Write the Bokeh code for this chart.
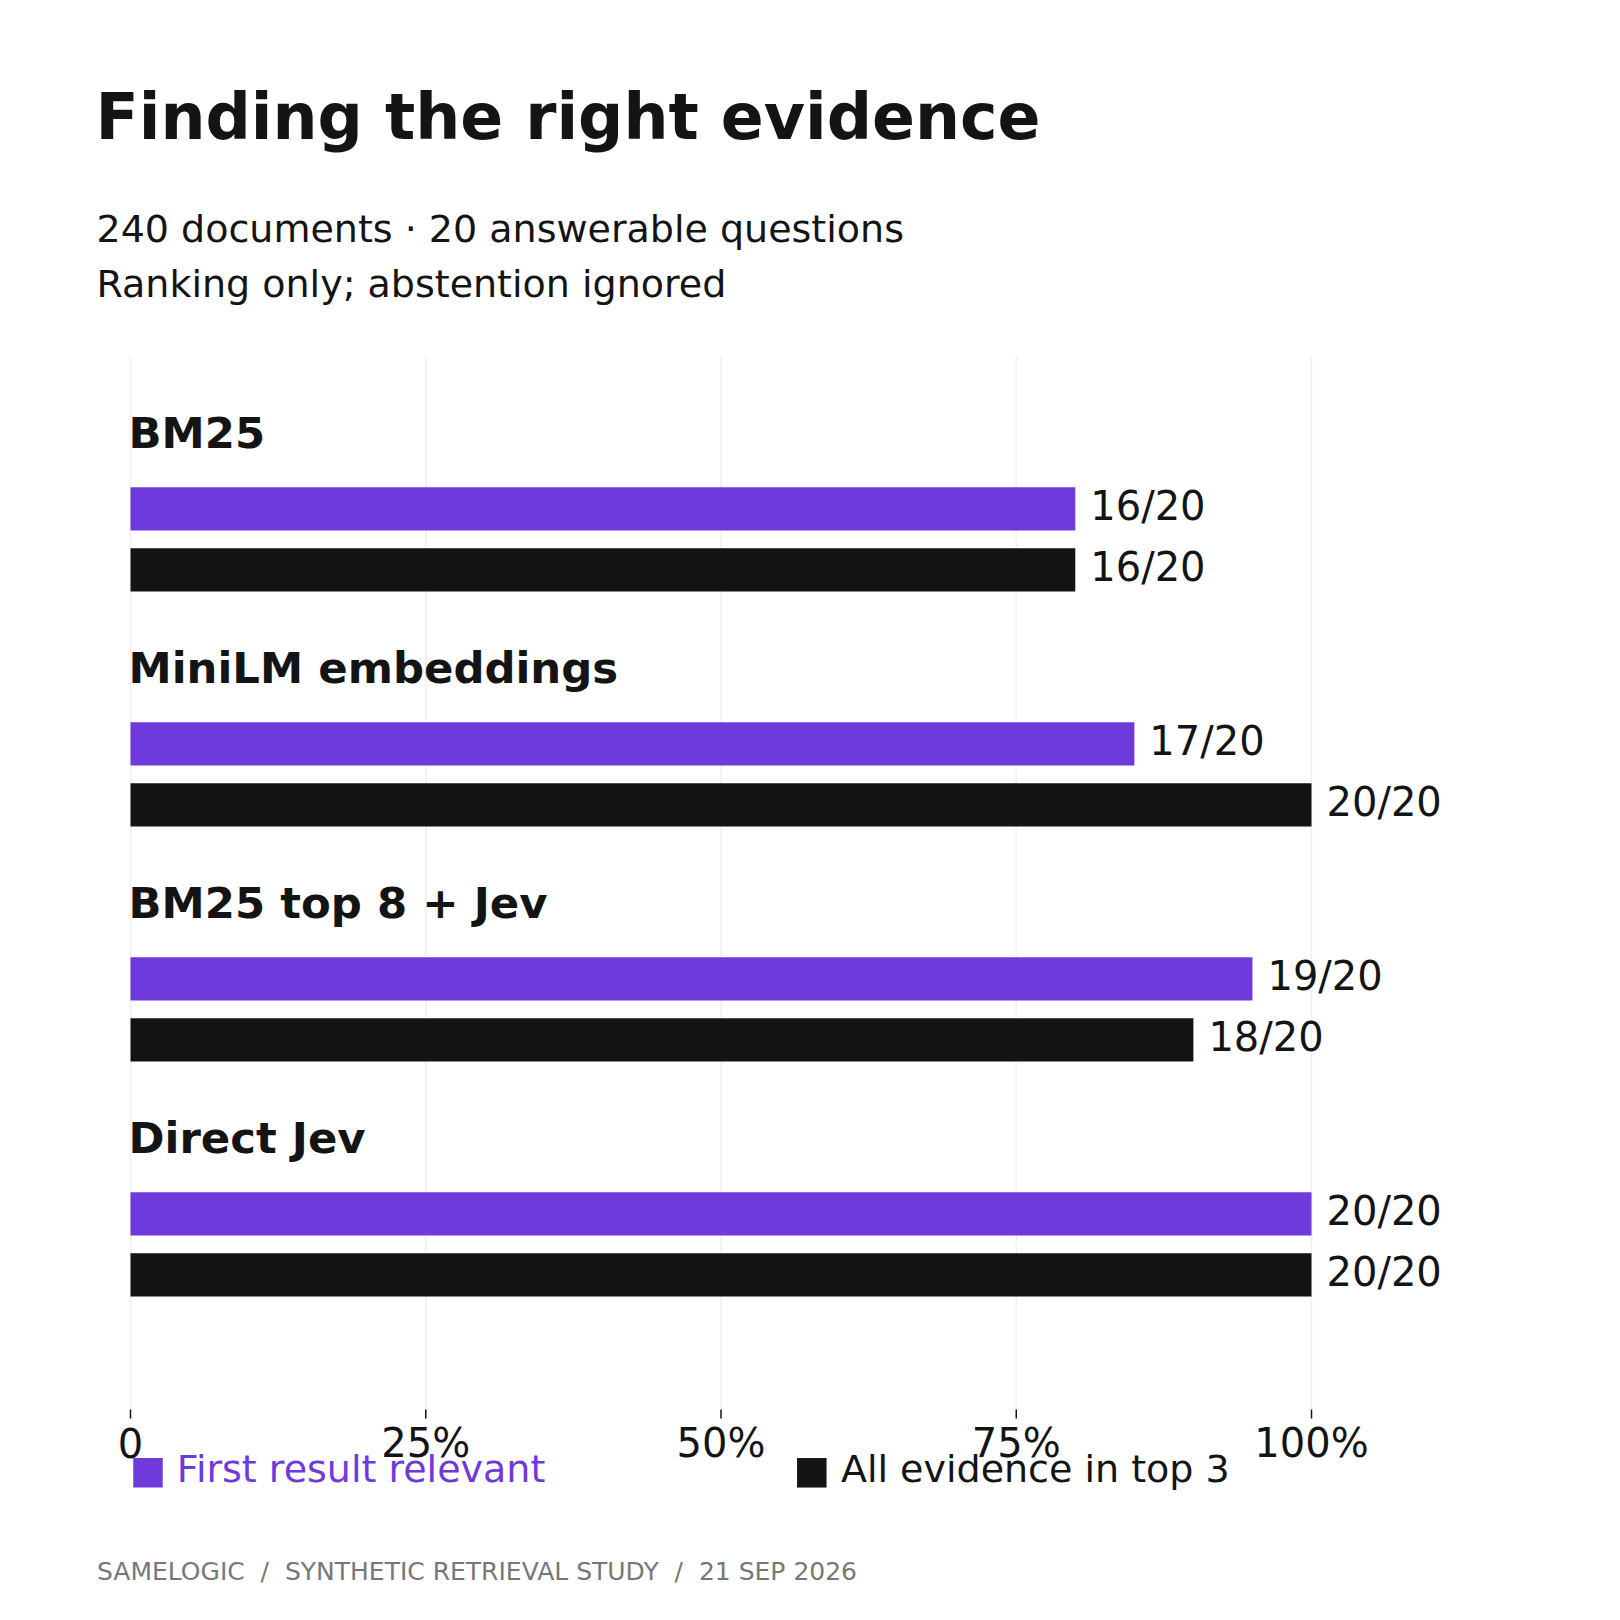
from bokeh.plotting import figure
from bokeh.models import ColumnDataSource, Range1d
from bokeh.core.properties import value
from bokeh.embed import file_html
from bokeh.resources import INLINE

# data
methods = ["BM25", "MiniLM embeddings", "BM25 top 8 + Jev", "Direct Jev"]
first_hits = [16, 17, 19, 20]   # first result relevant
all_hits = [16, 20, 18, 20]     # all evidence in top 3
total = 20
series_names = ["First result relevant", "All evidence in top 3"]
ticks = [0, 0.25, 0.5, 0.75, 1.0]
tick_labels = ["0", "25%", "50%", "75%", "100%"]

PURPLE = "#6f3adc"
INK = "#141414"
GREY = "#777777"
FONT = "DejaVu Sans"
W = H = 1604

# layout: share 0 sits at 130px, share 1 at 1311px; one row per method, 235px apart
X0, XSCALE = 130, 1181
Y0, YSCALE = 508.35, 235


def px(x):
    return (x - X0) / XSCALE


def py(y):
    return (y - Y0) / YSCALE


def lift(size):
    # text glyphs land about 0.36em low with an alphabetic baseline
    return -0.36 * size


rows = list(range(len(methods)))
bar_h = 43.3 / YSCALE
black_shift = 61 / YSCALE

p = figure(width=W, height=H,
           x_range=Range1d(px(0), px(W)), y_range=Range1d(py(H), py(0)),
           x_axis_location=None, y_axis_location=None,
           output_backend="svg", toolbar_location=None, min_border=0)
p.background_fill_color = "white"
p.border_fill_color = "white"
p.outline_line_color = None
p.grid.visible = False

# vertical guides and tick marks at the share ticks
p.segment(x0=ticks, x1=ticks, y0=py(356), y1=py(1409),
          line_color="#efefef", line_width=1.5)
p.segment(x0=ticks, x1=ticks, y0=py(1409), y1=py(1418),
          line_color=INK, line_width=1.5)
p.text(x=ticks, y=py(1457.3), text=tick_labels, y_offset=lift(40),
       text_font=value(FONT), text_font_size="40px", text_color=INK,
       text_align="center", text_baseline="alphabetic")

# bars
src_first = ColumnDataSource(dict(
    y=rows,
    share=[v / total for v in first_hits],
    label=[f"{v}/{total}" for v in first_hits],
))
src_all = ColumnDataSource(dict(
    y=[r + black_shift for r in rows],
    share=[v / total for v in all_hits],
    label=[f"{v}/{total}" for v in all_hits],
))
p.hbar(y="y", left=0, right="share", height=bar_h, source=src_first,
       fill_color=PURPLE, line_color=None)
p.hbar(y="y", left=0, right="share", height=bar_h, source=src_all,
       fill_color=INK, line_color=None)

# value labels at bar ends
for src in (src_first, src_all):
    p.text(x="share", y="y", text="label", source=src,
           x_offset=15, y_offset=12 + lift(40),
           text_font=value(FONT), text_font_size="40px",
           text_color=INK, text_baseline="alphabetic", text_align="left")

# group headings
p.text(x=0, y=rows, text=methods, x_offset=-2, y_offset=-60.6 + lift(43.4),
       text_font=value(FONT), text_font_size="43.4px", text_font_style="bold",
       text_color=INK, text_baseline="alphabetic", text_align="left")

# title block
p.text(x=[px(95)], y=[py(139)], text=["Finding the right evidence"],
       y_offset=lift(63.3), text_font=value(FONT), text_font_size="63.3px",
       text_font_style="bold", text_color=INK, text_baseline="alphabetic")
p.text(x=[px(96), px(96)], y=[py(241.7), py(296.7)],
       text=["240 documents \u00b7 20 answerable questions",
             "Ranking only; abstention ignored"],
       y_offset=lift(38), text_font=value(FONT), text_font_size="38px",
       text_color=INK, text_baseline="alphabetic")

# legend
p.scatter(x=[px(147.5), px(811.3)], y=[py(1472.3)] * 2, marker="square",
          size=29.5, fill_color=[PURPLE, INK], line_color=None)
p.text(x=[px(176.3), px(840.4)], y=[py(1481.7)] * 2, text=series_names,
       y_offset=lift(38), text_font=value(FONT), text_font_size="38px",
       text_color=[PURPLE, INK], text_baseline="alphabetic")

# footer (no-break spaces keep the wide gaps around the slashes)
p.text(x=[px(96.5)], y=[py(1580)],
       text=["SAMELOGIC \u00a0/\u00a0 SYNTHETIC RETRIEVAL STUDY \u00a0/\u00a0 21 SEP 2026"],
       y_offset=lift(25), text_font=value(FONT), text_font_size="25px",
       text_color=GREY, text_baseline="alphabetic")

open("out.html", "w").write(file_html(p, INLINE))
